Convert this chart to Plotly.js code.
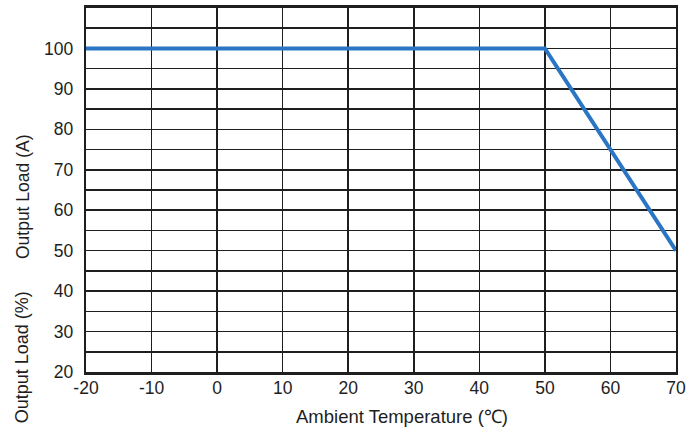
<!DOCTYPE html>
<html>
<head>
<meta charset="utf-8">
<script src="https://cdn.plot.ly/plotly-3.0.1.min.js"></script>
<style>html,body{margin:0;padding:0;background:#fff;}#chart{width:699px;height:433px;}</style>
</head>
<body>
<div id="chart"></div>
<script>
// Data
const temperature = [-20, 50, 70];
const outputLoad = [100, 100, 50];
const xTicks = [-20, -10, 0, 10, 20, 30, 40, 50, 60, 70];
const yTicks = [20, 30, 40, 50, 60, 70, 80, 90, 100];
const xTitle = 'Ambient Temperature (℃)';
const yTitleA = 'Output Load (A)';
const yTitlePct = 'Output Load (%)';

const font = 'Liberation Sans, Arial, sans-serif';
const gridColor = '#1e1e1e';

const trace = {
  x: temperature, y: outputLoad, type: 'scatter', mode: 'lines',
  line: {color: '#2a76c4', width: 4}, hoverinfo: 'skip'
};

const layout = {
  width: 699, height: 433,
  margin: {l: 86, r: 23, t: 8, b: 61},
  paper_bgcolor: '#fff', plot_bgcolor: '#fff',
  showlegend: false,
  font: {family: font, size: 17, color: '#1e1e1e'},
  xaxis: {
    range: [-20, 70], tickvals: xTicks, ticktext: xTicks.map(String),
    showgrid: true, gridcolor: gridColor, gridwidth: 1.6,
    showline: true, linecolor: gridColor, linewidth: 2.8, mirror: true,
    zeroline: false, ticks: '', fixedrange: true, ticklabelstandoff: -2,
    tickfont: {family: font, size: 17.5, color: '#1e1e1e'}
  },
  yaxis: {
    range: [20, 110], tickvals: yTicks, ticktext: yTicks.map(String),
    showgrid: true, gridcolor: gridColor, gridwidth: 1.6,
    minor: {tick0: 0, dtick: 5, showgrid: true, gridcolor: gridColor, gridwidth: 1.6, ticks: ''},
    showline: true, linecolor: gridColor, linewidth: 2.2, mirror: true,
    zeroline: false, ticks: '', fixedrange: true, ticklabelstandoff: 7,
    tickfont: {family: font, size: 17.5, color: '#1e1e1e'}
  },
  annotations: [
    {text: xTitle, xref: 'paper', yref: 'paper', x: 0.5356, y: -0.123,
     xanchor: 'center', yanchor: 'middle', showarrow: false,
     font: {family: font, size: 18.5, color: '#1e1e1e'}},
    {text: yTitleA, xref: 'paper', yref: 'paper', x: -0.107, y: 0.483,
     xanchor: 'center', yanchor: 'middle', showarrow: false, textangle: -90,
     font: {family: font, size: 17.5, color: '#1e1e1e'}},
    {text: yTitlePct, xref: 'paper', yref: 'paper', x: -0.107, y: 0.04,
     xanchor: 'center', yanchor: 'middle', showarrow: false, textangle: -90,
     font: {family: font, size: 18, color: '#1e1e1e'}}
  ]
};

Plotly.newPlot('chart', [trace], layout, {displayModeBar: false, staticPlot: true});
</script>
</body>
</html>
